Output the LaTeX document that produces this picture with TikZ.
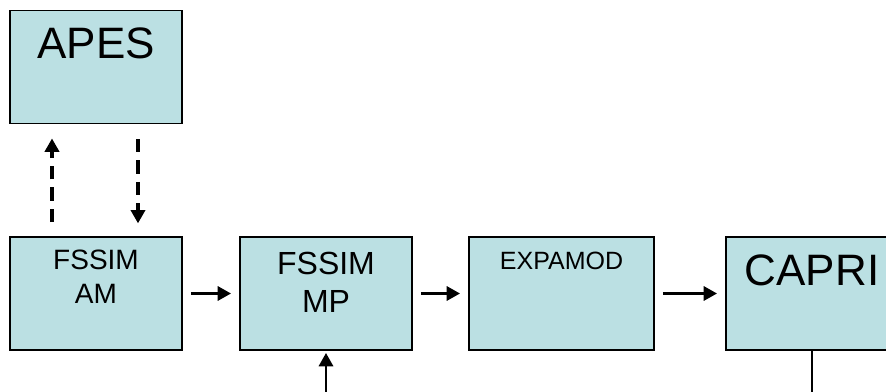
\documentclass[tikz,border=0pt]{standalone}
\usepackage{fontspec}
\setmainfont{Liberation Sans}
\usetikzlibrary{arrows.meta}
\definecolor{boxfill}{HTML}{BBE0E3}

\begin{document}
\begin{tikzpicture}
        [
        x=0.75pt, y=-0.75pt,
        align=center,
        box/.style={rectangle, fill=boxfill, draw=black, line width=1.4pt, minimum width=129pt, minimum height=84.75pt, inner sep=0pt},
        title/.style={inner sep=0pt, anchor=north},
        flow/.style={line width=2.2pt, -{Triangle[length=10pt, width=10.5pt]}},
        back/.style={line width=3pt, dash pattern=on 10pt off 6pt, -{Triangle[length=10pt, width=10.5pt]}},
        ]
                \useasboundingbox (0,0) rectangle (886,392);
                \clip (0,0) rectangle (886,392);

                % nodes
                \node[box] (apes) at   ( 96.0,  67.0) {};
                \node[box] (am) at     ( 96.0, 293.5) {};
                \node[box] (mp) at     (326.0, 293.5) {};
                \node[box, minimum width=138.75pt] (exp) at (561.5, 293.5) {};
                \node[box] (capri) at  (812.0, 293.5) {};

                % texts
                \node[title, font=\fontsize{33}{38}\selectfont, below=13.5pt] (apestext) at (apes.north) {APES};
                \node[title, font=\fontsize{21}{25}\selectfont, below=10.5pt] (amtext) at (am.north) {FSSIM\\AM};
                \node[title, font=\fontsize{24}{28.5}\selectfont, below=12pt] (mptext) at (mp.north) {FSSIM\\MP};
                \node[title, font=\fontsize{18.75}{22}\selectfont, below=12pt] (exptext) at (exp.north) {EXPAMOD};
                \node[title, font=\fontsize{33}{38}\selectfont, below=13.5pt] (capritext) at (capri.north) {CAPRI};

                % free ends
                \coordinate (mpin) at (326, 392);
                \coordinate (capriout) at (812, 392);

                % drawing code
                \foreach \from/\to in {am/mp,mp/exp,exp/capri}
                        \draw[flow] ([xshift=6pt]\from.east) -- ([xshift=-6pt]\to.west);
                \draw[flow] (mpin) -- ([yshift=-1.5pt]mp.south);
                \draw[line width=2.2pt] (capri.south) -- (capriout);
                \draw[back] ([xshift=-33pt, yshift=10.5pt]am.north) -- ([xshift=-33pt, yshift=-10.5pt]apes.south);
                \draw[back] ([xshift=31.5pt, yshift=-11pt]apes.south) -- ([xshift=31.5pt, yshift=9.5pt]am.north);
        \end{tikzpicture}
\end{document}
